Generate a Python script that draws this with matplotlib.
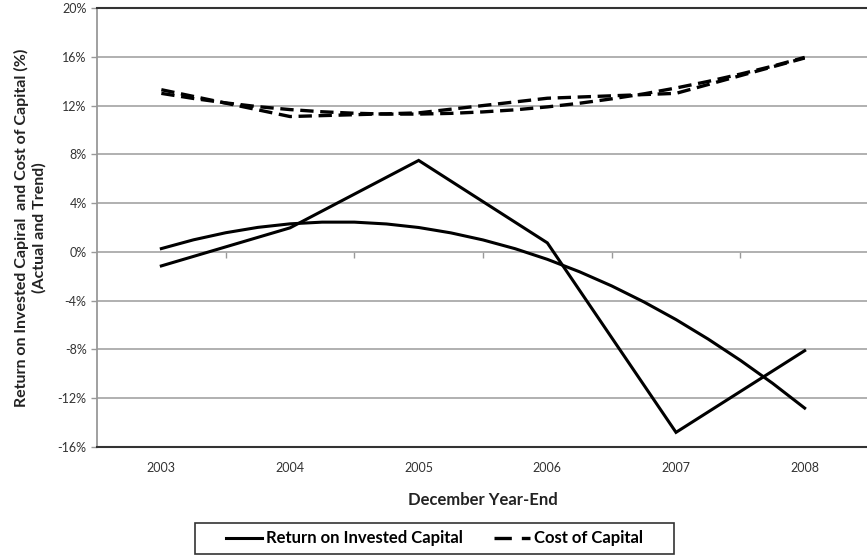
import numpy as np
import matplotlib
matplotlib.use('Agg')
import matplotlib.pyplot as plt
from matplotlib.lines import Line2D
from matplotlib.patches import Rectangle

plt.rcParams['font.family'] = ['Lato', 'DejaVu Sans']

# dados
anos = ['2003', '2004', '2005', '2006', '2007', '2008']
roic = [-1.15, 1.97, 7.5, 0.74, -14.8, -8.1]
custo_capital = [13.3, 11.1, 11.4, 12.6, 13.0, 15.9]

# linhas de tendencia lidas a cada quarto de ano
pos_tend = [0, 0.25, 0.5, 0.75, 1, 1.25, 1.5, 1.75, 2, 2.25, 2.5,
            2.75, 3, 3.25, 3.5, 3.75, 4, 4.25, 4.5, 4.75, 5]
roic_tend = [0.27, 0.99, 1.57, 2.01, 2.30, 2.44, 2.44, 2.29, 2.0, 1.56, 0.98,
             0.26, -0.61, -1.63, -2.79, -4.10, -5.55, -7.15, -8.89, -10.77, -12.81]
custo_tend = [13.0, 12.58, 12.22, 11.91, 11.67, 11.49, 11.37, 11.30, 11.30, 11.36, 11.48,
              11.65, 11.89, 12.19, 12.55, 12.96, 13.44, 13.98, 14.58, 15.23, 15.95]

y_ticks = [-16, -12, -8, -4, 0, 4, 8, 12, 16, 20]

fig = plt.figure(figsize=(8.67, 5.55), dpi=100)
ax = fig.add_axes([97/867, 1-447/555, 772/867, 439/555])

x = np.arange(len(anos))
ax.plot(x, roic, color='black', lw=2.2, solid_joinstyle='miter')
ax.plot(pos_tend, roic_tend, color='black', lw=2.2)
ax.plot(x, custo_capital, color='black', lw=2.4, dashes=(4, 2))
ax.plot(pos_tend, custo_tend, color='black', lw=2.4, dashes=(4, 2))

ax.set_xlim(-0.5, 5.5)
ax.set_ylim(-16, 20)
ax.set_yticks(y_ticks)
ax.set_yticklabels([f'{v}%' for v in y_ticks])
ax.set_xticks(x)
ax.set_xticklabels(anos)
ax.tick_params(axis='x', length=0, pad=11, labelsize=9, colors='#333333')
ax.tick_params(axis='y', length=4, width=1, color='#999999', labelsize=9, labelcolor='#333333')
ax.grid(axis='y', color='#aaaaaa', lw=1.3)
ax.set_axisbelow(True)

for lado in ['top', 'bottom', 'right']:
    ax.spines[lado].set_color('#333333')
    ax.spines[lado].set_linewidth(1.5)
ax.spines['left'].set_color('#999999')
ax.spines['left'].set_linewidth(1.3)

# eixo x no 0%
eixo0 = ax.secondary_xaxis(16/36)
eixo0.set_xticks(np.arange(0.5, 5, 1))
eixo0.set_xticklabels([])
eixo0.tick_params(length=4, width=1, color='#999999')
eixo0.spines['bottom'].set_visible(False)

ax.set_xlabel('December Year-End', fontsize=12, fontweight='bold', labelpad=13, color='#222222')
ax.set_ylabel('Return on Invested Capiral  and Cost of Capital (%)\n(Actual and Trend)',
              fontsize=11.5, fontweight='bold', color='#222222', labelpad=8, linespacing=1.25)

# legenda (caixa desenhada separada)
h1 = Line2D([], [], color='black', lw=2.2)
h2 = Line2D([], [], color='black', lw=2.4, dashes=(5.2, 3))
leg = fig.legend([h1, h2], ['Return on Invested Capital', 'Cost of Capital'],
                 loc='center', bbox_to_anchor=(434.5/867, 1-538.5/555), ncol=2,
                 prop={'weight': 'bold', 'size': 12}, frameon=False,
                 handlelength=2.15, handletextpad=0.25, columnspacing=1.85, borderpad=0.2)
fig.patches.append(Rectangle((195/867, 1-554/555), 479/867, 31/555, transform=fig.transFigure,
                             fill=False, ec='#333333', lw=1.2))

fig.savefig('out.png', dpi=100)
